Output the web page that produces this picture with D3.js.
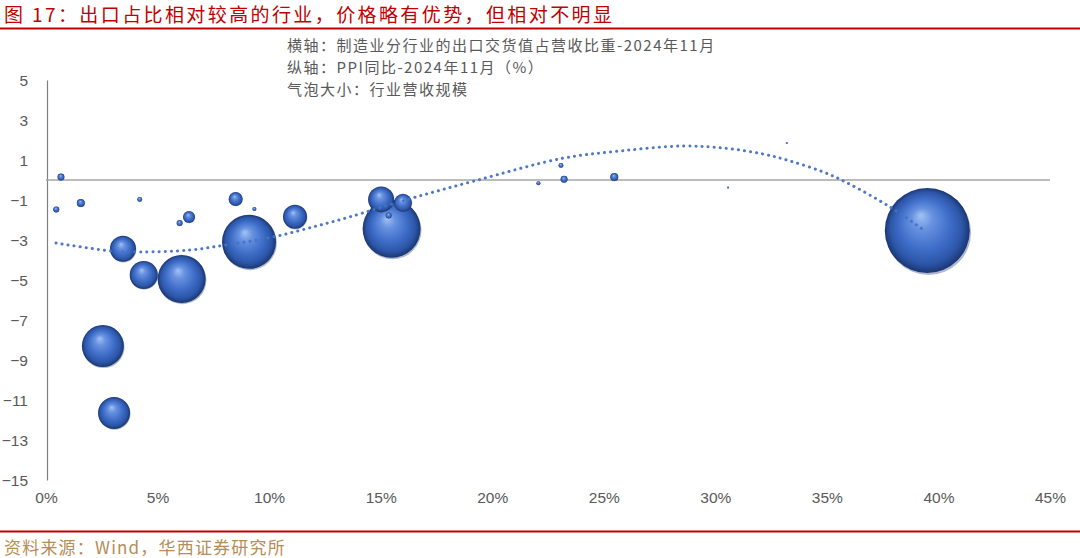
<!DOCTYPE html>
<html><head><meta charset="utf-8">
<script src="https://cdn.jsdelivr.net/npm/d3@7"></script>
<style>
html,body{margin:0;padding:0;background:#fff;}
svg{display:block;}
.cjk{font-family:"Noto Sans CJK SC","Noto Sans",sans-serif;}
.tick text{font-family:"Liberation Sans Narrow","Liberation Sans",Arial,sans-serif;font-size:15.5px;fill:#595959;}
</style></head>
<body>
<svg id="chart" width="1080" height="558"></svg>
<script>
// ---- data ----
const exportShare = [0.67,0.46,1.56,4.2,3.45,4.38,6.08,5.99,6.41,8.5,9.34,9.1,11.16,2.55,3.05,15.02,16.0,15.49,15.36,22.07,23.22,23.08,25.47,30.57,33.2,39.5]; // %
const ppiYoY = [0.15,-1.47,-1.15,-0.97,-3.44,-4.75,-4.95,-2.15,-1.85,-0.95,-1.45,-3.09,-1.84,-8.3,-11.65,-0.97,-1.14,-2.44,-1.77,-0.16,0.04,0.73,0.15,-0.37,1.85,-2.52]; // %
const revenue = [0.12,0.09,0.16,0.06,1.69,1.96,5.76,0.09,0.36,0.49,0.04,7.29,1.44,4.41,2.56,1.69,0.81,8.41,0.09,0.04,0.12,0.06,0.16,0.01,0.01,18.06]; // bubble size
const trendX = [0.45,2.95,4.2,6.45,7.93,10.17,12.13,13.6,16.3,19.3,23.17,25.73,28.55,30.5,32.14,33.35,34.84,35.89,37.83,39.4];
const trendY = [-3.15,-3.55,-3.6,-3.5,-3.27,-2.85,-2.3,-1.85,-0.94,-0.02,1.09,1.45,1.7,1.58,1.3,0.95,0.4,-0.13,-1.35,-2.55];
const xTicks = [0,5,10,15,20,25,30,35,40,45];
const yTicks = [5,3,1,-1,-3,-5,-7,-9,-11,-13,-15];
const titleText = "图 17：出口占比相对较高的行业，价格略有优势，但相对不明显";
const noteLines = ["横轴：制造业分行业的出口交货值占营收比重-2024年11月","纵轴：PPI同比-2024年11月（%）","气泡大小：行业营收规模"];
const sourceText = "资料来源：Wind，华西证券研究所";

const svg = d3.select("#chart");
const x = d3.scaleLinear().domain([0,45]).range([46,1050]);
const y = d3.scaleLinear().domain([-15,5]).range([480,80]);
const r = d3.scaleSqrt().domain([0,d3.max(revenue)]).range([0,42.5]);

// gradients
const defs = svg.append("defs");
const g = defs.append("radialGradient").attr("id","ball").attr("cx","50%").attr("cy","50%").attr("r","50%").attr("fx","42%").attr("fy","32%");
[[0,"#a3c3f4"],[0.25,"#6892e0"],[0.6,"#3e6dc8"],[0.85,"#2c55a6"],[1,"#1a3672"]].forEach(s=>g.append("stop").attr("offset",s[0]).attr("stop-color",s[1]));

// title
svg.append("text").attr("class","cjk").attr("x",4).attr("y",22).attr("fill","#c00000").attr("font-size",19).attr("letter-spacing",2.4).attr("font-weight","400").text(titleText);
svg.append("line").attr("x1",0).attr("x2",1080).attr("y1",28.5).attr("y2",28.5).attr("stroke","#c00000").attr("stroke-width",2);

// notes
svg.append("g").selectAll("text").data(noteLines).join("text").attr("class","cjk")
  .attr("x",287).attr("y",(d,i)=>51+i*22).attr("fill","#595959").attr("font-size",15).attr("letter-spacing",1.5).text(d=>d);

// axes
const xa = svg.append("g").attr("transform","translate(0,480)")
  .call(d3.axisBottom(x).tickValues(xTicks).tickSize(0).tickPadding(12).tickFormat(d=>d+"%"));
xa.select(".domain").remove();
const ya = svg.append("g").attr("transform","translate(47,0)")
  .call(d3.axisLeft(y).tickValues(yTicks).tickSize(0).tickPadding(19).tickFormat(d3.format("d")));
ya.select(".domain").attr("stroke","#7f7f7f").attr("stroke-width",1.2);
ya.selectAll("text").attr("dy","0.35em");
// zero line
svg.append("line").attr("x1",x(0)).attr("x2",x(45)).attr("y1",y(0)).attr("y2",y(0)).attr("stroke","#a6a6a6").attr("stroke-width",1.5);

// bubbles (largest first)
const pts = exportShare.map((v,i)=>({x:v,y:ppiYoY[i],s:revenue[i]})).sort((a,b)=>b.s-a.s);
const bg = svg.append("g");
bg.selectAll("circle.sh").data(pts).join("circle").attr("class","sh")
  .attr("cx",d=>x(d.x)+r(d.s)*0.03).attr("cy",d=>y(d.y)+r(d.s)*0.05).attr("r",d=>Math.max(1,r(d.s)))
  .attr("fill","#1b3470").attr("opacity",0.35);
bg.selectAll("circle.b").data(pts).join("circle").attr("class","b")
  .attr("cx",d=>x(d.x)).attr("cy",d=>y(d.y)).attr("r",d=>Math.max(1,r(d.s)))
  .attr("fill","url(#ball)");

// trend line (dotted)
const line = d3.line().x((d,i)=>x(trendX[i])).y((d,i)=>y(trendY[i])).curve(d3.curveCatmullRom);
svg.append("path").attr("d",line(trendX)).attr("fill","none").attr("stroke","#4472c4")
  .attr("stroke-width",3).attr("stroke-linecap","round").attr("stroke-dasharray","0.1 6").attr("opacity",0.95);

// footer
svg.append("line").attr("x1",0).attr("x2",1080).attr("y1",531.5).attr("y2",531.5).attr("stroke","#c00000").attr("stroke-width",2);
svg.append("text").attr("class","cjk").attr("x",4).attr("y",554).attr("fill","#b58d55").attr("font-size",17).attr("letter-spacing",1.2).text(sourceText);
</script>
</body></html>
